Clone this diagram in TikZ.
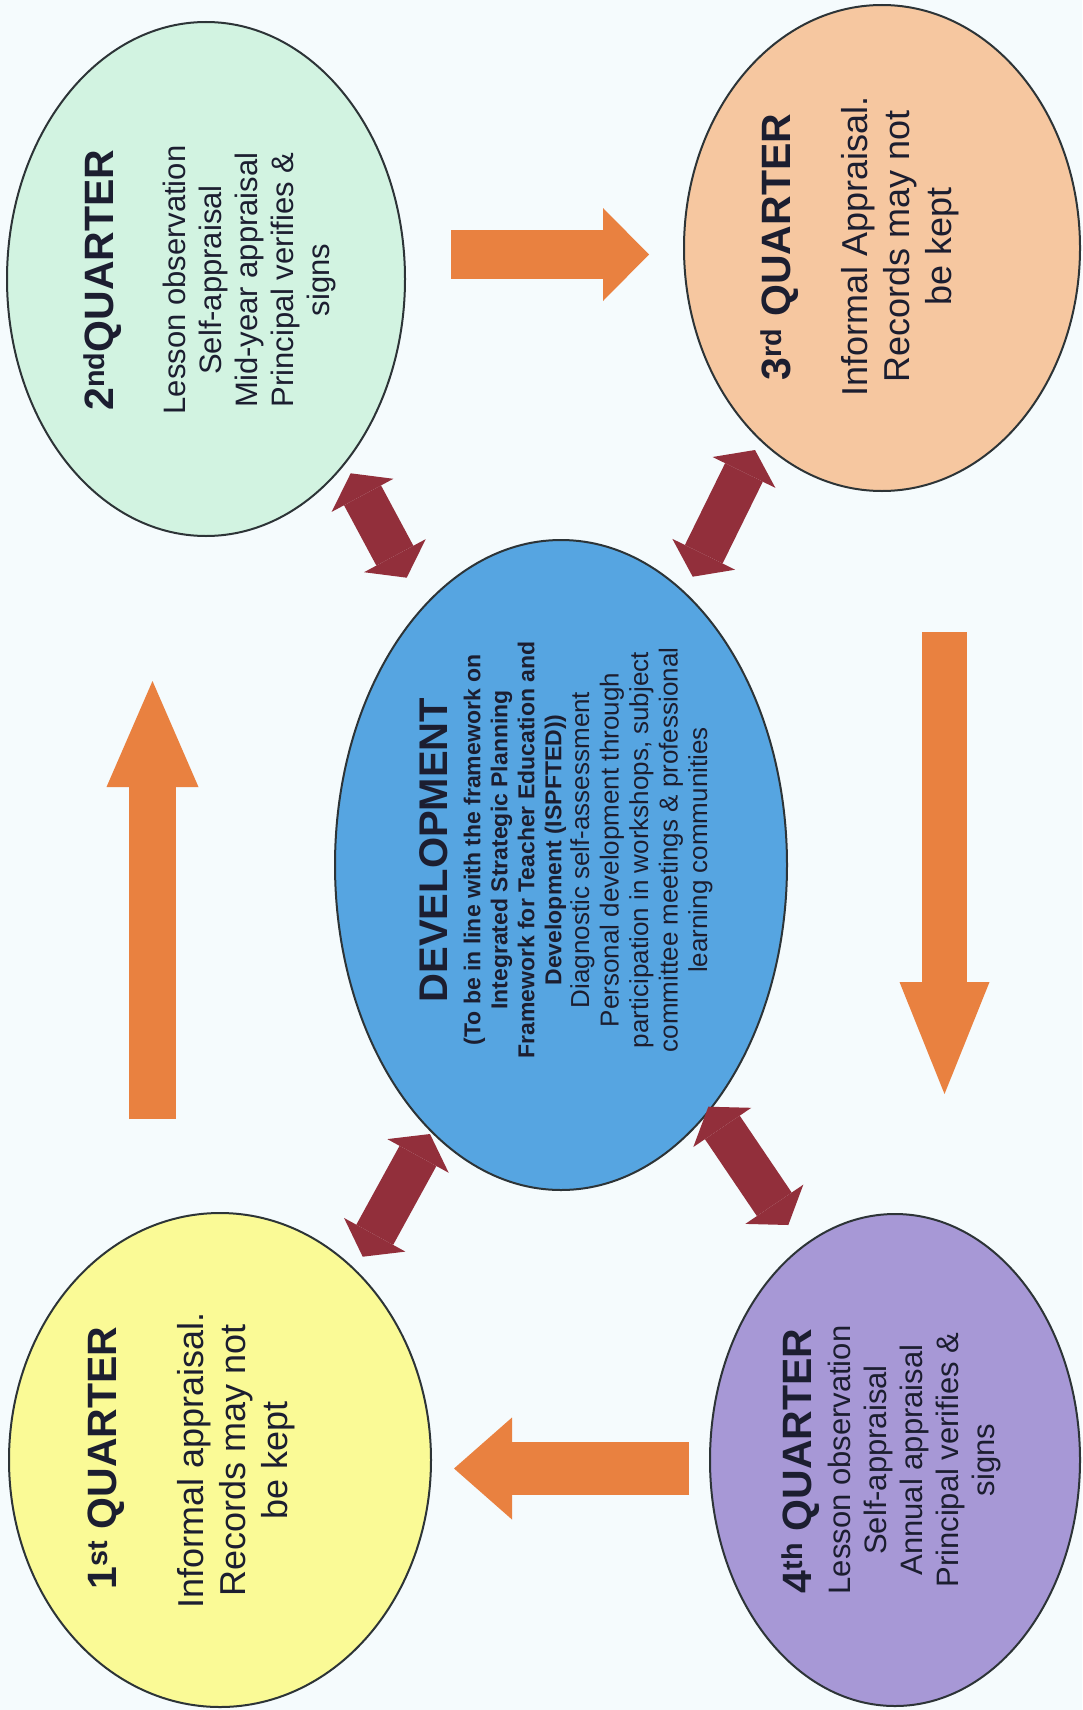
\documentclass[tikz,border=0pt]{standalone}
\usepackage{xcolor}
\usepackage{fontspec}
\setmainfont{Liberation Sans}
\usetikzlibrary{shapes.geometric,arrows.meta}
\definecolor{paper}{RGB}{245,251,253}
\definecolor{second}{RGB}{210,243,225}
\definecolor{third}{RGB}{246,199,160}
\definecolor{develop}{RGB}{86,165,225}
\definecolor{first}{RGB}{250,250,150}
\definecolor{fourth}{RGB}{167,152,214}
\definecolor{turncol}{RGB}{233,129,64}
\definecolor{linkcol}{RGB}{146,47,59}
\definecolor{ink}{RGB}{28,30,48}
\definecolor{rim}{RGB}{45,52,55}
\tikzstyle{quarter}=[ellipse, draw=rim, line width=2pt, inner sep=0pt]
\tikzset{heading/.style={rotate=90, inner sep=0pt, text=ink, font=\fontsize{41}{48}\selectfont\bfseries}}
\tikzset{notes/.style={rotate=90, inner sep=0pt, text=ink, align=center, font=\fontsize{31}{36}\selectfont}}
\tikzset{bignotes/.style={notes, font=\fontsize{36}{42}\selectfont}}
\tikzset{devbold/.style={notes, font=\fontsize{23}{27}\selectfont\bfseries}}
\tikzset{devplain/.style={notes, font=\fontsize{26}{29.5}\selectfont}}
\tikzset{turn/.style args={#1,#2,#3}{draw=turncol, line width=#1,
    -{Triangle[width=#2, length=#3, line width=0pt]}}}
\tikzset{link/.style={draw=linkcol, line width=42pt,
    {Triangle[width=70pt, length=25pt, line width=0pt]}-{Triangle[width=70pt, length=25pt, line width=0pt]}}}

\begin{document}
\begin{tikzpicture}[x=1pt, y=-1pt]
  \path[use as bounding box, fill=paper] (0,0) rectangle (1082,1710);

  %% Quarters and development
  \draw (206,279) node[quarter, fill=second, minimum width=398pt, minimum height=514pt] (Q2) {};
  \draw (882,248) node[quarter, fill=third, minimum width=396pt, minimum height=486pt] (Q3) {};
  \draw (220,1460) node[quarter, fill=first, minimum width=422pt, minimum height=494pt] (Q1) {};
  \draw (895,1460) node[quarter, fill=fourth, minimum width=370pt, minimum height=492pt] (Q4) {};
  \draw (561,865) node[quarter, fill=develop, minimum width=452pt, minimum height=650pt] (D) {};

  \draw (102.5,280) node[heading] (Q2h) {2\textsuperscript{nd}QUARTER};
  \draw (249,280) node[notes] (Q2b) {Lesson observation\\Self-appraisal\\Mid-year appraisal\\Principal verifies \&\\signs};

  \draw (780,247) node[heading] (Q3h) {3\textsuperscript{rd} QUARTER};
  \draw (900,246) node[bignotes] (Q3b) {Informal Appraisal.\\Records may not\\be kept};

  \draw (106,1458) node[heading] (Q1h) {1\textsuperscript{st} QUARTER};
  \draw (236.5,1460) node[bignotes] (Q1b) {Informal appraisal.\\Records may not\\be kept};

  \draw (800.5,1461) node[heading] (Q4h) {4\textsuperscript{th} QUARTER};
  \draw (914.5,1460) node[notes] (Q4b) {Lesson observation\\Self-appraisal\\Annual appraisal\\Principal verifies \&\\signs};

  \draw (434,850) node[heading, font=\fontsize{40}{48}\selectfont\bfseries] (Dh) {DEVELOPMENT};
  \draw (515,850) node[devbold] (Db) {(To be in line with the framework on\\Integrated Strategic Planning\\Framework for Teacher Education and\\Development (ISPFTED))};
  \draw (641.5,850) node[devplain] (Dp) {Diagnostic self-assessment\\Personal development through\\participation in workshops, subject\\committee meetings \& professional\\learning communities};

  %% Cycle arrows
  \coordinate (T12a) at (152.5,1119);
  \coordinate (T12b) at (152.5,681);
  \coordinate (T23a) at (451,254.5);
  \coordinate (T23b) at (649,254.5);
  \coordinate (T34a) at (944.5,632);
  \coordinate (T34b) at (944.5,1094);
  \coordinate (T41a) at (689,1468.5);
  \coordinate (T41b) at (454,1468.5);

  \draw[turn={47pt,92pt,106pt}] (T12a) -- (T12b);
  \draw[turn={49pt,93pt,46pt}] (T23a) -- (T23b);
  \draw[turn={45pt,90pt,112pt}] (T34a) -- (T34b);
  \draw[turn={53pt,102pt,58pt}] (T41a) -- (T41b);

  %% Links to development
  \coordinate (L2a) at (350.7,473.3);
  \coordinate (L2b) at (406.7,577.7);
  \coordinate (L3a) at (692.7,576.7);
  \coordinate (L3b) at (755,450);
  \coordinate (L1a) at (362.7,1256.7);
  \coordinate (L1b) at (430,1134);
  \coordinate (L4a) at (708.3,1106.7);
  \coordinate (L4b) at (788.3,1225);

  \draw[link] (L2a) -- (L2b);
  \draw[link] (L3a) -- (L3b);
  \draw[link] (L1a) -- (L1b);
  \draw[link] (L4a) -- (L4b);
\end{tikzpicture}
\end{document}
